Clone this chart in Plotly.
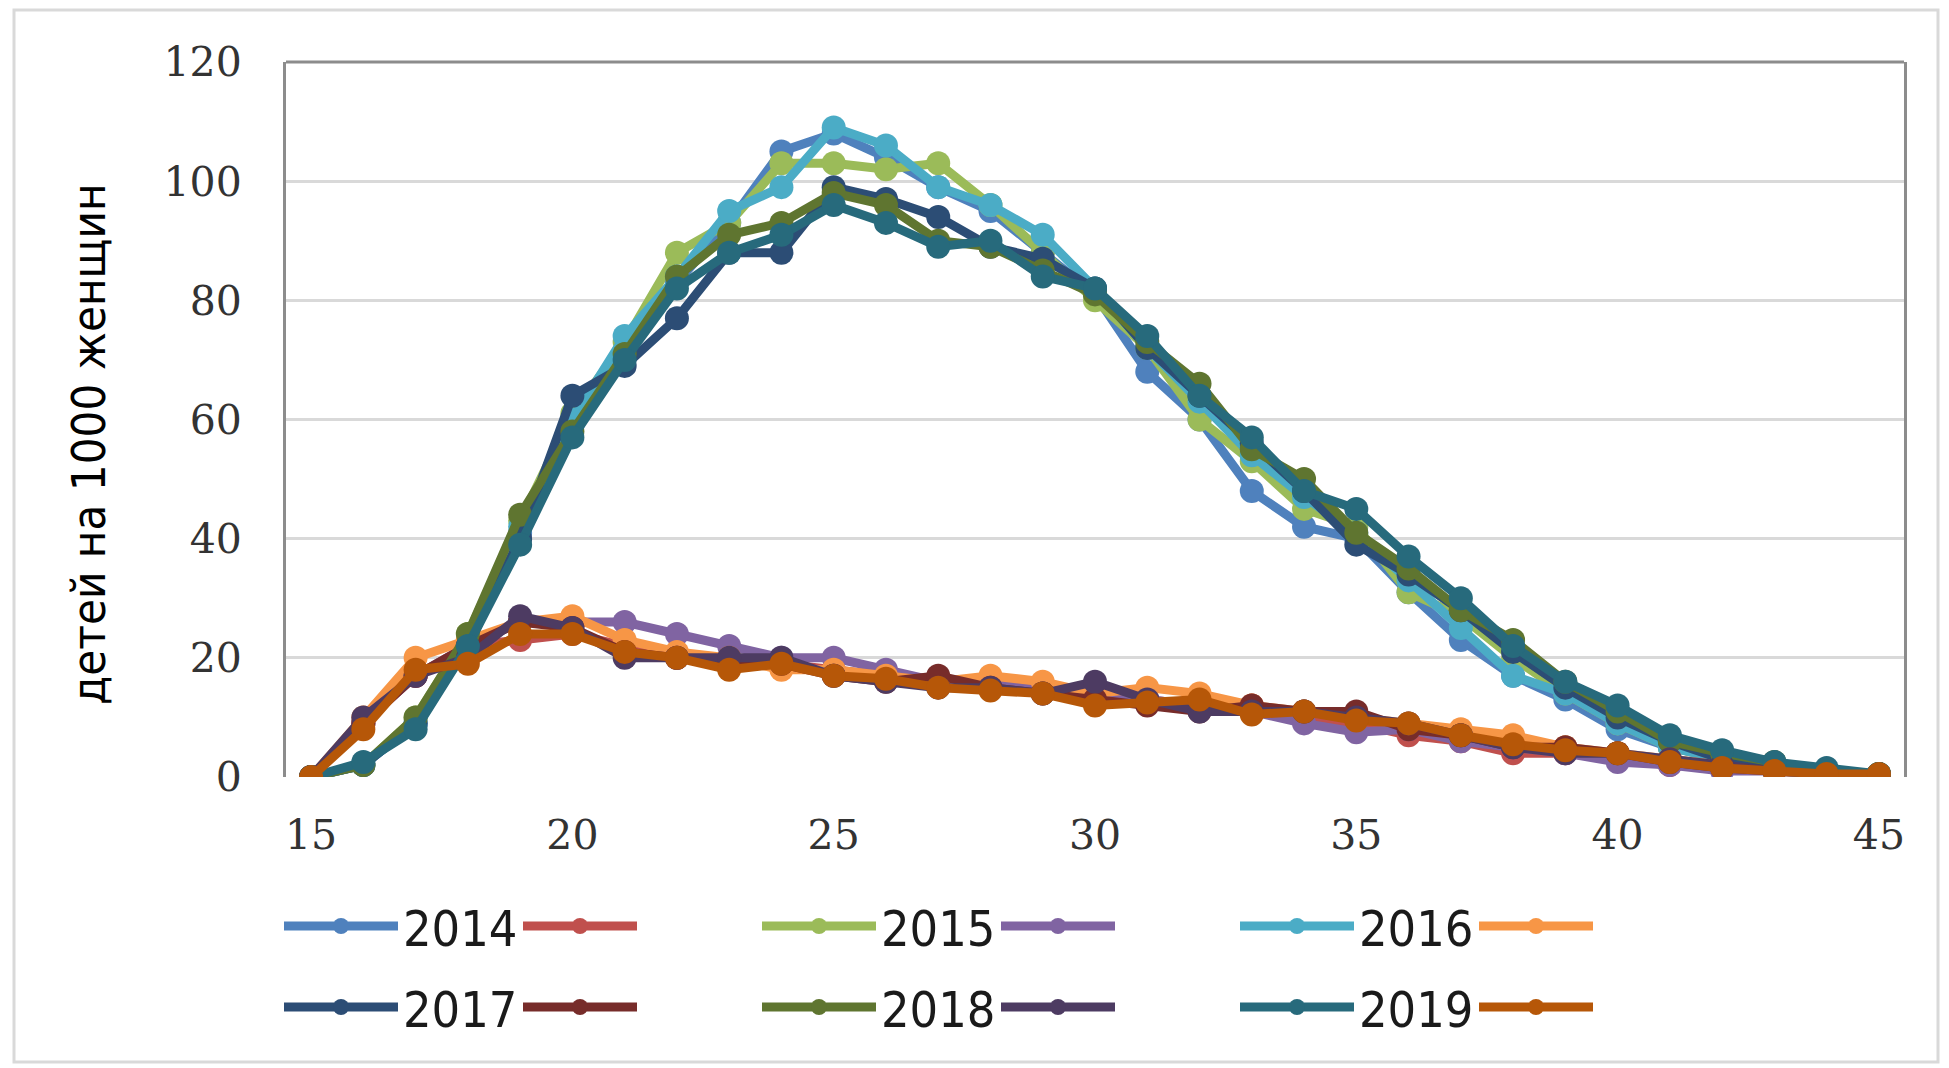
import plotly.graph_objects as go

ages = list(range(15, 46))

# upper curves (named years)
y2014 = [0, 2, 9, 22, 41, 59, 71, 83, 93, 105, 108, 104, 99, 95, 88, 81, 68, 60, 48, 42, 40, 31, 23, 17, 13, 8, 5, 3, 1.5, 0.8, 0.5]
y2015 = [0, 2, 10, 24, 43, 61, 73, 88, 93, 103, 103, 102, 103, 96, 88, 80, 72, 60, 53, 45, 42, 31, 27, 20, 14, 9, 5, 3, 1.5, 1, 0.5]
y2016 = [0, 2, 9, 22, 42, 60, 74, 84, 95, 99, 109, 106, 99, 96, 91, 82, 72, 63, 54, 47, 41, 33, 25, 17, 14, 9, 5, 3, 1.5, 1, 0.5]
y2017 = [0, 2, 9, 22, 40, 64, 69, 77, 88, 88, 99, 97, 94, 89, 87, 82, 72, 64, 56, 48, 39, 34, 28, 21, 15, 10, 6, 3, 2, 1, 0.5]
y2018 = [0, 2, 10, 24, 44, 58, 71, 84, 91, 93, 98, 96, 90, 89, 85, 81, 73, 66, 55, 50, 41, 35, 28, 23, 16, 11, 6, 4, 2.5, 1, 0.5]
y2019 = [0, 2.5, 8, 22, 39, 57, 70, 82, 88, 91, 96, 93, 89, 90, 84, 82, 74, 64, 57, 48, 45, 37, 30, 22, 16, 12, 7, 4.5, 2.5, 1.5, 0.5]

# lower curves (unnamed companions)
l2014 = [0, 9, 17, 22, 23, 24, 22, 20, 19, 19, 18, 17, 16, 15, 15, 14, 13, 12, 12, 10, 9, 7, 6, 4, 4, 3, 2, 1.5, 1, 0.5, 0.3]
l2015 = [0, 9, 17, 22, 26, 26, 26, 24, 22, 20, 20, 18, 16, 16, 15, 14, 13, 12, 11, 9, 7.5, 8, 6, 5, 4, 2.5, 2, 1, 1, 0.5, 0.3]
l2016 = [0, 10, 20, 23, 26, 27, 23, 21, 20, 18, 18, 17, 16, 17, 16, 14, 15, 14, 12, 11, 10, 9, 8, 7, 5, 4, 3, 2, 1, 0.5, 0.3]
l2017 = [0, 9, 17, 22, 26, 25, 21, 20, 19, 19, 17, 16, 17, 15, 14, 13, 12, 11, 12, 11, 11, 8, 7, 5, 5, 4, 2.5, 1.5, 1, 0.5, 0.3]
l2018 = [0, 10, 17, 20, 27, 25, 20, 20, 20, 20, 17, 16, 15, 15, 14, 16, 13, 11, 11, 11, 10, 9, 7, 5, 4, 4, 3, 2, 1, 0.5, 0.3]
l2019 = [0, 8, 18, 19, 24, 24, 21, 20, 18, 19, 17, 16.5, 15, 14.5, 14, 12, 12.5, 13, 10.5, 11, 9.5, 9, 7, 5.5, 4.5, 4, 2.5, 1.5, 1, 0.5, 0.5]

names = ["2014", " ", "2015", "  ", "2016", "   ", "2017", "    ", "2018", "     ", "2019", "      "]
series = [y2014, l2014, y2015, l2015, y2016, l2016, y2017, l2017, y2018, l2018, y2019, l2019]
colors = ["#4F81BD", "#C0504D", "#9BBB59", "#8064A2", "#4BACC6", "#F79646",
          "#2C4D75", "#772C2A", "#5F7530", "#4D3B62", "#276A7C", "#B65708"]

x_ticks = [15, 20, 25, 30, 35, 40, 45]
y_ticks = [0, 20, 40, 60, 80, 100, 120]

NARROW = "Liberation Sans Narrow, DejaVu Sans Condensed, Arial Narrow, sans-serif"

fig = go.Figure()
for i, (nm, ys, c) in enumerate(zip(names, series, colors)):
    fig.add_trace(go.Scatter(
        x=ages, y=ys, name=nm, mode="lines+markers",
        line=dict(color=c, width=9),
        marker=dict(color=c, size=24),
        legend="legend" if i < 6 else "legend2",
    ))

OFF = 8  # browser body margin
W, H = 1949 - OFF, 1068 - OFF
L, R, T, B = 286 - OFF, 45, 62 - OFF, 291
pw, ph = W - L - R, H - T - B


def px(x):  # page pixel -> paper
    return (x - OFF - L) / pw


def py(y):
    return 1 - (y - OFF - T) / ph


leg_common = dict(
    orientation="h", xanchor="left", yanchor="middle",
    font=dict(family=NARROW, size=50, color="#1a1a1a"),
    itemwidth=114, entrywidth=110, bgcolor="rgba(0,0,0,0)",
    tracegroupgap=0, itemclick=False,
)

fig.update_layout(
    width=W, height=H,
    margin=dict(l=L, r=R, t=T, b=B),
    paper_bgcolor="white", plot_bgcolor="white",
    showlegend=True,
    legend=dict(x=px(279), y=py(926), **leg_common),
    legend2=dict(x=px(279), y=py(1007), **leg_common),
    xaxis=dict(
        range=[14.52, 45.48], tickvals=x_ticks, showgrid=False, zeroline=False,
        showline=False, ticks="", ticklabelstandoff=30,
        tickfont=dict(family="DejaVu Serif", size=41, color="#333333"),
    ),
    yaxis=dict(
        range=[0, 120], tickvals=y_ticks, showgrid=True, gridcolor="#d9d9d9", gridwidth=3,
        zeroline=False, showline=True, mirror=True, linecolor="#8c8c8c", linewidth=3,
        ticks="", ticklabelstandoff=33,
        tickfont=dict(family="DejaVu Serif", size=41, color="#333333"),
    ),
    annotations=[dict(
        text="детей на 1000 женщин", textangle=-90, showarrow=False,
        xref="paper", yref="paper", x=px(88), y=py(444),
        xanchor="center", yanchor="middle",
        font=dict(family=NARROW, size=47, color="black"),
    )],
    shapes=[
        dict(type="line", xref="paper", yref="paper", x0=0, x1=1, y0=1, y1=1,
             line=dict(color="#8c8c8c", width=3), layer="below"),
        dict(type="rect", xref="paper", yref="paper",
             x0=px(14), x1=px(1938), y0=py(10), y1=py(1062),
             line=dict(color="#d9d9d9", width=3), fillcolor="rgba(0,0,0,0)", layer="below"),
    ],
)

fig.write_html("out.html")
